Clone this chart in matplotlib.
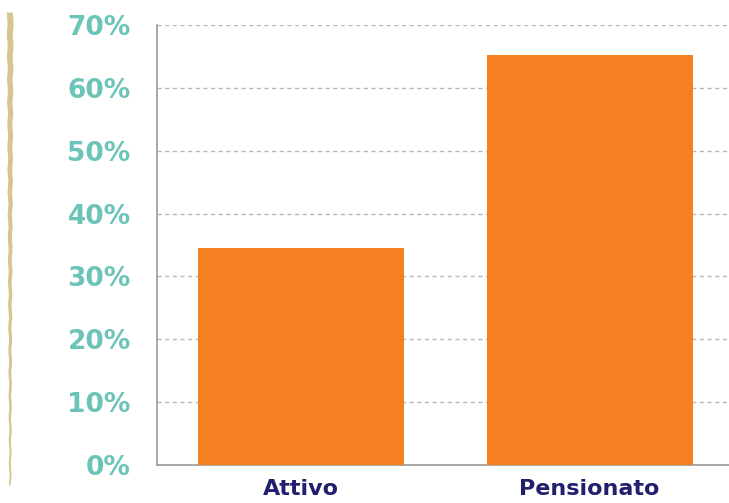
import numpy as np
import matplotlib.pyplot as plt

categories = ['Attivo', 'Pensionato']
values = [34.6, 65.3]
yticks = [0, 10, 20, 30, 40, 50, 60, 70]

fig = plt.figure(figsize=(7.29, 5.03), dpi=100)
ax = fig.add_axes([0.2154, 0.0755, 0.7846, 0.8748])

x = np.arange(len(categories))
ax.bar(x, values, width=0.714, color='#f58022', zorder=3)

ax.set_xlim(-0.499, 1.4835)
ax.set_ylim(0, 70)
ax.set_yticks(yticks)
ax.set_yticklabels([f'{t}%' for t in yticks], color='#6cc4b8', fontsize=19,
                   fontweight='bold', family='DejaVu Sans')
ax.set_xticks(x)
ax.set_xticklabels(categories, color='#221f6e', fontsize=16, fontweight='bold',
                   family='DejaVu Sans')
ax.tick_params(length=0)
ax.tick_params(axis='y', pad=19)
ax.tick_params(axis='x', pad=10)

ax.grid(axis='y', color='#b8b8b8', linestyle=(0, (3, 2.5)), linewidth=1, zorder=0)
for s in ['top', 'right']:
    ax.spines[s].set_visible(False)
ax.spines['left'].set_color('#999999')
ax.spines['bottom'].set_color('#999999')
ax.spines['left'].set_linewidth(1.2)
ax.spines['bottom'].set_linewidth(1.2)

# decorative tan stroke on the left edge, thick at the top, thin at the bottom
ys = np.linspace(0.035, 0.975, 80)
half = np.linspace(0.0012, 0.0042, 80)
xc = 0.0140 + 0.0006 * np.sin(ys * 140)
poly_x = np.concatenate([xc - half, (xc + half)[::-1]])
poly_y = np.concatenate([ys, ys[::-1]])
fig.add_artist(plt.Polygon(np.column_stack([poly_x, poly_y]), closed=True,
                           facecolor='#d6c58e', edgecolor='none',
                           transform=fig.transFigure))

fig.savefig('out.png', dpi=100)
